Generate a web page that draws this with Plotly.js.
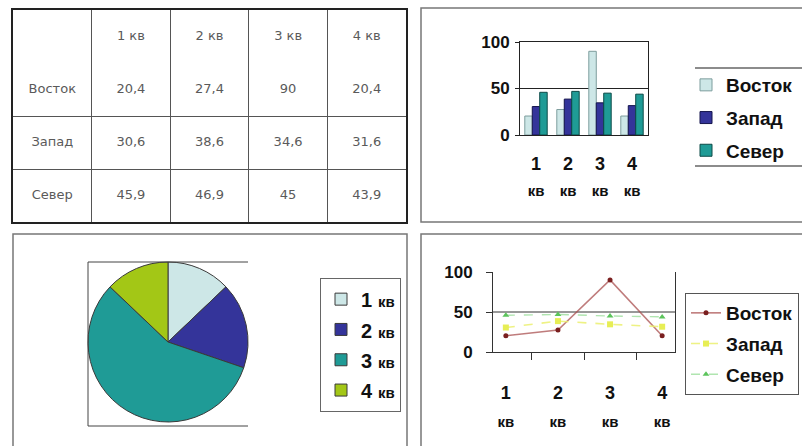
<!DOCTYPE html>
<html><head><meta charset="utf-8">
<script src="https://cdn.plot.ly/plotly-3.0.1.min.js"></script>
<style>html,body{margin:0;padding:0;background:#fff}#chart{width:802px;height:446px}</style>
</head><body><div id="chart"></div>
<script>
// ---- data ----
const quarters = ['1 кв', '2 кв', '3 кв', '4 кв'];
const regions = ['Восток', 'Запад', 'Север'];
const vostok = [20.4, 27.4, 90, 20.4];
const zapad = [30.6, 38.6, 34.6, 31.6];
const sever = [45.9, 46.9, 45, 43.9];
const yTicks = [0, 50, 100];

// ---- helpers ----
const W = 802, H = 446;
const px = x => x / W, py = y => 1 - y / H;
const series = [vostok, zapad, sever];
const fmt = v => String(v).replace('.', ',');
const splitQ = q => q.split(' ');
const tickHtml = (q, big, small) => {
  const [n, u] = splitQ(q);
  return '<span style="font-size:' + big + 'px">' + n + '</span><br><span style="font-size:' + small + 'px">' + u + '</span>';
};
const legHtml = q => {
  const [n, u] = splitQ(q);
  return '<span style="font-size:20px">' + n + '</span> <span style="font-size:15px">' + u + '</span>';
};
const BOLD = {family: 'Liberation Sans, Arial, sans-serif', color: '#111', weight: 700};
const f = (size, extra) => Object.assign({}, BOLD, {size: size}, extra || {});

const barColors = ['#cde7e7', '#34349a', '#1f9b96'];
const barLines = ['#7d9d9d', '#15154d', '#0c4a47'];
const pieColors = ['#cde7e7', '#34349a', '#1f9b96', '#a3c716'];

// ---- table (text trace on its own axes) ----
const tX = [], tY = [], tT = [];
quarters.forEach((q, i) => { tX.push(i + 1.5); tY.push(0.5); tT.push(q); });
regions.forEach((r, j) => {
  tX.push(0.5); tY.push(j + 1.5); tT.push(r);
  series[j].forEach((v, i) => { tX.push(i + 1.5); tY.push(j + 1.5); tT.push(fmt(v)); });
});

const traces = [];
traces.push({
  type: 'scatter', mode: 'text', x: tX, y: tY, text: tT,
  textfont: {family: 'DejaVu Sans, sans-serif', size: 13, color: '#5a5a5a'},
  xaxis: 'x4', yaxis: 'y4', showlegend: false, hoverinfo: 'skip'
});

// ---- bar chart ----
regions.forEach((r, j) => {
  traces.push({
    type: 'bar', x: quarters, y: series[j], name: r,
    marker: {color: barColors[j], line: {color: barLines[j], width: 1}},
    xaxis: 'x', yaxis: 'y', legend: 'legend', legendgroup: 'b' + j
  });
});

// ---- pie chart (Восток by quarter) ----
traces.push({
  type: 'pie', labels: quarters.map(legHtml), values: vostok,
  sort: false, direction: 'clockwise', rotation: 0,
  marker: {colors: pieColors, line: {color: '#3a3a3a', width: 1}},
  textinfo: 'none', hoverinfo: 'label+value',
  domain: {x: [px(88), px(248)], y: [py(422), py(262)]},
  legend: 'legend2'
});

// ---- line chart ----
const lineStyles = [
  {line: {color: 'rgba(170,80,80,0.75)', width: 1.6}, marker: {color: '#7a1f1f', size: 5, symbol: 'circle'}},
  {line: {color: 'rgba(235,240,110,0.85)', width: 1.6, dash: 'dash'}, marker: {color: '#e7ee55', size: 6, symbol: 'square'}},
  {line: {color: 'rgba(150,220,150,0.75)', width: 1.4, dash: 'dash'}, marker: {color: '#5cc45c', size: 6, symbol: 'triangle-up'}}
];
regions.forEach((r, j) => {
  traces.push(Object.assign({
    type: 'scatter', mode: 'lines+markers', x: quarters, y: series[j], name: r,
    xaxis: 'x3', yaxis: 'y3', legend: 'legend3', legendgroup: 'l' + j
  }, lineStyles[j]));
});

const noAx = {showticklabels: false, ticks: '', zeroline: false, fixedrange: true};

const layout = {
  width: W, height: H, margin: {l: 0, r: 0, t: 0, b: 0},
  paper_bgcolor: '#fff', plot_bgcolor: 'rgba(0,0,0,0)',
  barmode: 'group', bargap: 0.3, bargroupgap: 0,
  // table axes
  xaxis4: Object.assign({}, noAx, {domain: [px(13), px(406)], anchor: 'y4', range: [0, 5],
    tickvals: [1, 2, 3, 4], showgrid: true, gridcolor: '#555', gridwidth: 1,
    showline: true, mirror: true, linecolor: '#222', linewidth: 2}),
  yaxis4: Object.assign({}, noAx, {domain: [py(222), py(10)], anchor: 'x4', range: [4, 0],
    tickvals: [2, 3], showgrid: true, gridcolor: '#555', gridwidth: 1,
    showline: true, mirror: true, linecolor: '#222', linewidth: 2}),
  // bar axes
  xaxis: {domain: [px(520), px(648)], anchor: 'y', type: 'category',
    tickvals: quarters, ticktext: quarters.map(q => tickHtml(q, 18, 15)),
    tickfont: f(20.5), ticks: '', ticklabelstandoff: 9,
    showline: true, mirror: true, linecolor: '#222', linewidth: 1, fixedrange: true},
  yaxis: {domain: [py(135), py(42)], anchor: 'x', range: [0, 100], tickvals: yTicks,
    tickfont: f(17), showgrid: true, gridcolor: '#222', gridwidth: 1, zeroline: false,
    ticks: 'outside', ticklen: 4, tickcolor: '#222', ticklabelstandoff: 2,
    showline: true, mirror: true, linecolor: '#222', linewidth: 1, fixedrange: true},
  // line axes
  xaxis3: {domain: [px(493), px(675)], anchor: 'y3', type: 'category',
    tickvals: quarters, ticktext: quarters.map(q => tickHtml(q, 18, 15)),
    tickfont: f(21), tickson: 'boundaries', ticks: 'outside', ticklen: 7, tickcolor: '#333',
    ticklabelstandoff: 21, showgrid: false,
    showline: true, mirror: false, linecolor: '#333', linewidth: 1, fixedrange: true},
  yaxis3: {domain: [py(352), py(272)], anchor: 'x3', range: [0, 100], tickvals: yTicks,
    tickfont: f(17), showgrid: false, zeroline: false,
    ticks: 'outside', ticklen: 6, tickcolor: '#333', ticklabelstandoff: 10,
    showline: true, mirror: true, linecolor: '#333', linewidth: 1, fixedrange: true},
  legend: {x: px(686), y: py(66), xanchor: 'left', yanchor: 'top', font: f(19),
    bgcolor: 'rgba(0,0,0,0)', borderwidth: 0, traceorder: 'grouped', tracegroupgap: 5,
    itemwidth: 30},
  legend2: {x: px(320), y: py(278), xanchor: 'left', yanchor: 'top', font: f(21),
    bgcolor: '#fff', bordercolor: '#666', borderwidth: 1, itemwidth: 30},
  legend3: {x: px(685), y: py(293), xanchor: 'left', yanchor: 'top', font: f(19),
    bgcolor: '#fff', bordercolor: '#555', borderwidth: 1, traceorder: 'grouped', tracegroupgap: 3,
    itemwidth: 30},
  shapes: [
    // panel frames
    {type: 'rect', xref: 'paper', yref: 'paper', x0: px(421), x1: px(806), y0: py(222), y1: py(8), line: {color: '#777', width: 1.5}},
    {type: 'rect', xref: 'paper', yref: 'paper', x0: px(13), x1: px(407), y0: py(450), y1: py(234), line: {color: '#777', width: 1.5}},
    {type: 'rect', xref: 'paper', yref: 'paper', x0: px(421), x1: px(806), y0: py(450), y1: py(234), line: {color: '#777', width: 1.5}},
    // bar legend rules
    {type: 'line', xref: 'paper', yref: 'paper', x0: px(695), x1: 1, y0: py(68), y1: py(68), line: {color: '#666', width: 1.5}},
    {type: 'line', xref: 'paper', yref: 'paper', x0: px(695), x1: 1, y0: py(166), y1: py(166), line: {color: '#666', width: 1.5}},
    // pie frame
    {type: 'line', xref: 'paper', yref: 'paper', x0: px(88), x1: px(88), y0: py(426), y1: py(262), line: {color: '#444', width: 1}},
    {type: 'line', xref: 'paper', yref: 'paper', x0: px(88), x1: px(248), y0: py(262), y1: py(262), line: {color: '#444', width: 1}},
    {type: 'line', xref: 'paper', yref: 'paper', x0: px(88), x1: px(248), y0: py(426), y1: py(426), line: {color: '#444', width: 1}},
    // line chart 50 rule
    {type: 'line', xref: 'x3 domain', yref: 'y3', x0: 0, x1: 1, y0: 50, y1: 50, line: {color: '#333', width: 1}, layer: 'below'}
  ]
};

Plotly.newPlot('chart', traces, layout, {staticPlot: true, displayModeBar: false});
</script></body></html>
